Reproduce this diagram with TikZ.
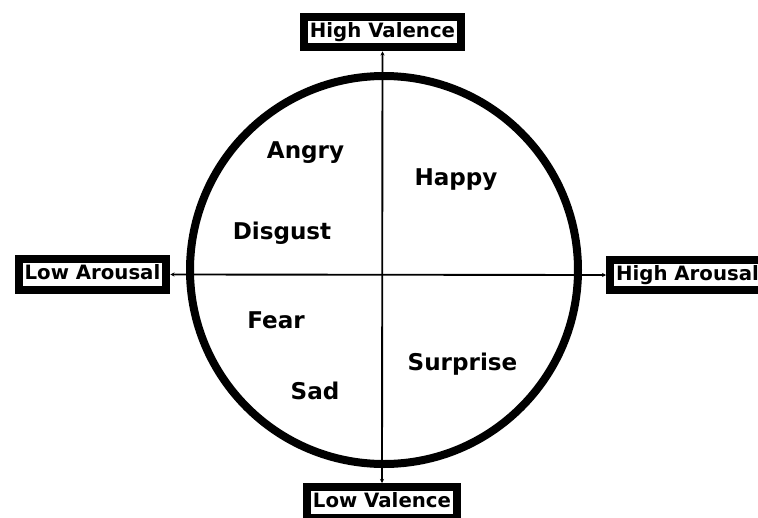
\documentclass[tikz,border=0pt]{standalone}
\usepackage{fontspec}
\setmainfont{DejaVu Sans}
\usetikzlibrary{arrows.meta,calc}

\begin{document}
\begin{tikzpicture}[
    x=0.75pt, y=-0.75pt,
    >={Stealth[length=3pt,width=3pt]},
    pole/.style={draw, line width=6pt, fill=white,
        inner xsep=4.6pt, inner ysep=4.3pt,
        font=\fontsize{14.8}{16}\selectfont\bfseries,
        text height=11.1pt, text depth=3.5pt},
    feeling/.style={anchor=base, font=\fontsize{17.3}{20}\selectfont\bfseries},
    axis/.style={line width=1.4pt},
]

\def\R{194}  % wheel radius (px)

% Frame
\useasboundingbox (0,0) rectangle (758,518);

% ============================================================
% WHEEL
% ============================================================
\coordinate (o) at (384,270);
\draw[line width=6pt] (o) circle (\R);

% ============================================================
% POLES (axis ends)
% ============================================================
\node[pole] (hv) at (382.5,32) {High Valence};
\node[pole, anchor=north] (lv) at (382,483) {Low Valence};
\node[pole] (la) at (92.5,274.5) {Low Arousal};
\node[pole, anchor=west] (ha) at (606,275) {High Arousal};

% Axes
\draw[axis, <->] (hv.south) -- (lv.north);
\draw[axis, <->] (la.east) -- (ha.west);

% ============================================================
% EMOTIONS
% ============================================================
\node[feeling] (angry) at (305.5,158) {Angry};
\node[feeling] (happy) at (456,185) {Happy};
\node[feeling] (disgust) at (282,239) {Disgust};
\node[feeling] (fear) at (276,328) {Fear};
\node[feeling] (surprise) at (462.5,370) {Surprise};
\node[feeling] (sad) at (315,399) {Sad};

\end{tikzpicture}
\end{document}
